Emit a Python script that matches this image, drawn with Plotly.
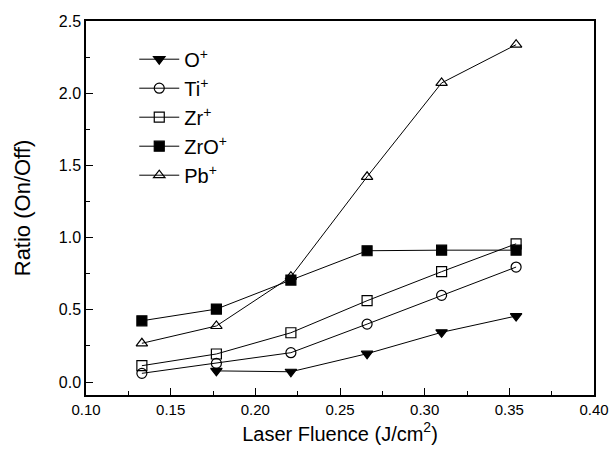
import plotly.graph_objects as go

fluence = [0.133, 0.177, 0.221, 0.266, 0.310, 0.354]
o_x = [0.177, 0.221, 0.266, 0.310, 0.354]
o_vals = [0.077, 0.071, 0.196, 0.344, 0.457]
ti_vals = [0.060, 0.129, 0.203, 0.401, 0.600, 0.796]
zr_vals = [0.113, 0.194, 0.341, 0.563, 0.764, 0.957]
zro_vals = [0.424, 0.505, 0.706, 0.909, 0.913, 0.913]
pb_vals = [0.268, 0.388, 0.729, 1.421, 2.071, 2.336]

x_ticks = [0.10, 0.15, 0.20, 0.25, 0.30, 0.35, 0.40]
y_ticks = [0.0, 0.5, 1.0, 1.5, 2.0, 2.5]

series = [
    ("O<sup>+</sup>", o_x, o_vals, "triangle-down"),
    ("Ti<sup>+</sup>", fluence, ti_vals, "circle-open"),
    ("Zr<sup>+</sup>", fluence, zr_vals, "square-open"),
    ("ZrO<sup>+</sup>", fluence, zro_vals, "square"),
    ("Pb<sup>+</sup>", fluence, pb_vals, "triangle-up-open"),
]

fig = go.Figure()
for i, (name, xs, ys, sym) in enumerate(series):
    fig.add_trace(go.Scatter(
        x=xs, y=ys, name=name, mode="lines+markers",
        line=dict(color="black", width=1),
        marker=dict(symbol=sym, size=10, color="black",
                    line=dict(color="black", width=1.2)),
        legendgroup=str(i),
    ))

font_family = "Liberation Sans, Arial, sans-serif"
fig.update_layout(
    width=610, height=453,
    margin=dict(l=86, r=16, t=21, b=58),
    paper_bgcolor="white", plot_bgcolor="white",
    font=dict(family=font_family, color="black"),
    showlegend=True,
    legend=dict(x=0.095, y=0.95, xanchor="left", yanchor="top",
                font=dict(size=20, family=font_family), tracegroupgap=0,
                bgcolor="rgba(0,0,0,0)", itemwidth=40),
)
fig.update_xaxes(
    range=[0.10, 0.40], tickvals=x_ticks, tickformat=".2f",
    ticks="inside", ticklen=7, tickwidth=1, tickcolor="black",
    minor=dict(dtick=0.025, ticks="inside", ticklen=4, tickcolor="black"),
    showline=True, linecolor="black", linewidth=1.5, mirror=True,
    showgrid=False, zeroline=False, automargin=False,
    tickfont=dict(size=15),
    title=dict(text="Laser Fluence (J/cm<sup>2</sup>)", font=dict(size=20), standoff=10),
)
fig.update_yaxes(
    range=[-0.09, 2.5], tickvals=y_ticks, tickformat=".1f",
    ticks="inside", ticklen=7, tickwidth=1, tickcolor="black",
    minor=dict(tickvals=[0.25, 0.75, 1.25, 1.75, 2.25], ticks="inside", ticklen=4, tickcolor="black"),
    showline=True, linecolor="black", linewidth=1.5, mirror=True,
    showgrid=False, zeroline=False, automargin=False,
    tickfont=dict(size=16),
    title=dict(text="Ratio (On/Off)", font=dict(size=22), standoff=22),
)
fig.write_html("out.html", config={"displayModeBar": False},
               post_script="document.body.style.margin='0px';")
